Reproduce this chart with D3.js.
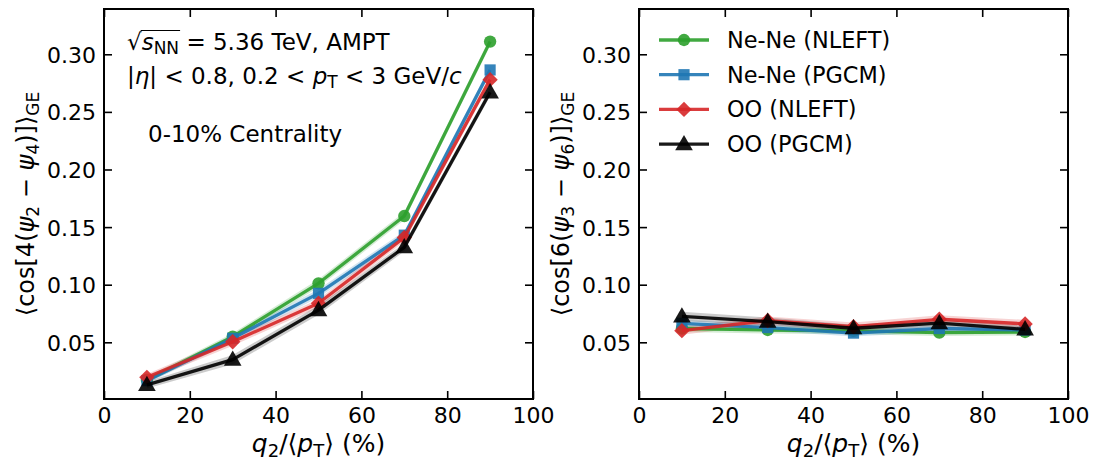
<!DOCTYPE html>
<html>
<head>
<meta charset="utf-8">
<script src="https://cdn.jsdelivr.net/npm/d3@7"></script>
<style>
  body { margin: 0; background: #fff; }
  svg text { font-family: "DejaVu Sans", sans-serif; fill: #000; }
</style>
</head>
<body>
<svg id="chart" width="1094" height="464"></svg>
<script>
// ---------------- DATA ----------------
const xValues = [10, 30, 50, 70, 90];
const seriesNames = ["Ne-Ne (NLEFT)", "Ne-Ne (PGCM)", "OO (NLEFT)", "OO (PGCM)"];
const seriesColors = ["#2ca02c", "#1f77b4", "#d62728", "#000000"];
const seriesMarkers = ["circle", "square", "diamond", "triangle"];

// left panel: <cos[4(psi2 - psi4)]>_GE
const leftNeNeNLEFT = [0.0173, 0.0549, 0.1012, 0.1596, 0.3110];
const leftNeNePGCM  = [0.0167, 0.0535, 0.0925, 0.1430, 0.2864];
const leftOONLEFT   = [0.0196, 0.0505, 0.0839, 0.1410, 0.2780];
const leftOOPGCM    = [0.0130, 0.0350, 0.0780, 0.1325, 0.2670];
const leftErrNeNeNLEFT = [0.0025, 0.0030, 0.0035, 0.0035, 0.0035];
const leftErrNeNePGCM  = [0.0025, 0.0030, 0.0035, 0.0035, 0.0035];
const leftErrOONLEFT   = [0.0030, 0.0035, 0.0035, 0.0035, 0.0035];
const leftErrOOPGCM    = [0.0030, 0.0040, 0.0040, 0.0035, 0.0035];

// right panel: <cos[6(psi3 - psi6)]>_GE
const rightNeNeNLEFT = [0.0620, 0.0607, 0.0600, 0.0584, 0.0590];
const rightNeNePGCM  = [0.0665, 0.0628, 0.0580, 0.0620, 0.0607];
const rightOONLEFT   = [0.0601, 0.0689, 0.0636, 0.0700, 0.0660];
const rightOOPGCM    = [0.0725, 0.0680, 0.0622, 0.0666, 0.0613];
const rightErrNeNeNLEFT = [0.0030, 0.0030, 0.0030, 0.0030, 0.0030];
const rightErrNeNePGCM  = [0.0030, 0.0030, 0.0030, 0.0030, 0.0030];
const rightErrOONLEFT   = [0.0035, 0.0035, 0.0035, 0.0035, 0.0035];
const rightErrOOPGCM    = [0.0040, 0.0035, 0.0030, 0.0030, 0.0030];

const xTicks = [0, 20, 40, 60, 80, 100];
const yTicks = [0.05, 0.10, 0.15, 0.20, 0.25, 0.30];
const xDomain = [0, 100];
const yDomain = [0.0008, 0.3393];

// ---------------- LAYOUT ----------------
const svg = d3.select("#chart");
const plotTop = 9, plotBottom = 399;
const panels = [
  { left: 104, right: 533,
    values: [leftNeNeNLEFT, leftNeNePGCM, leftOONLEFT, leftOOPGCM],
    errors: [leftErrNeNeNLEFT, leftErrNeNePGCM, leftErrOONLEFT, leftErrOOPGCM],
    harm: ["4", "2", "4"] },
  { left: 639, right: 1068,
    values: [rightNeNeNLEFT, rightNeNePGCM, rightOONLEFT, rightOOPGCM],
    errors: [rightErrNeNeNLEFT, rightErrNeNePGCM, rightErrOONLEFT, rightErrOOPGCM],
    harm: ["6", "3", "6"] }
];

function markerPath(type) {
  if (type === "circle") return d3.symbol(d3.symbolCircle, 120)();
  if (type === "square") return d3.symbol(d3.symbolSquare, 125)();
  if (type === "diamond") return d3.symbol(d3.symbolSquare, 118)();
  return d3.symbol(d3.symbolTriangle, 135)();
}
function markerTransform(type, x, y) {
  if (type === "diamond") return `translate(${x},${y}) rotate(45)`;
  if (type === "triangle") return `translate(${x},${y + 1})`;
  return `translate(${x},${y})`;
}

const FS = 22;
const FSA = 23;

panels.forEach((p, pi) => {
  const x = d3.scaleLinear().domain(xDomain).range([p.left, p.right]);
  const y = d3.scaleLinear().domain(yDomain).range([plotBottom, plotTop]);
  const g = svg.append("g");

  const clipId = "clip" + pi;
  svg.append("clipPath").attr("id", clipId).append("rect")
    .attr("x", p.left).attr("y", plotTop).attr("width", p.right - p.left).attr("height", plotBottom - plotTop);
  const plot = g.append("g").attr("clip-path", `url(#${clipId})`);

  // bands
  p.values.forEach((vals, si) => {
    const errs = p.errors[si];
    const area = d3.area()
      .x((d, i) => x(xValues[i]))
      .y0((d, i) => y(d - errs[i]))
      .y1((d, i) => y(d + errs[i]));
    plot.append("path").datum(vals).attr("d", area)
      .attr("fill", seriesColors[si]).attr("fill-opacity", 0.2).attr("stroke", "none");
  });
  // lines + markers
  p.values.forEach((vals, si) => {
    const line = d3.line().x((d, i) => x(xValues[i])).y(d => y(d));
    plot.append("path").datum(vals).attr("d", line)
      .attr("fill", "none").attr("stroke", seriesColors[si])
      .attr("stroke-width", 3.3).attr("stroke-opacity", 0.9).attr("stroke-linejoin", "round");
    plot.selectAll(null).data(vals).enter().append("path")
      .attr("d", markerPath(seriesMarkers[si]))
      .attr("transform", (d, i) => markerTransform(seriesMarkers[si], x(xValues[i]), y(d)))
      .attr("fill", seriesColors[si]).attr("fill-opacity", 0.9);
  });

  // axes (ticks inside)
  const tickLen = 8;
  const axB = d3.axisBottom(x).tickValues(xTicks).tickSizeInner(-tickLen).tickSizeOuter(0).tickPadding(8).tickFormat(d3.format("d"));
  const axT = d3.axisTop(x).tickValues(xTicks).tickSizeInner(-tickLen).tickSizeOuter(0).tickFormat("");
  const axL = d3.axisLeft(y).tickValues(yTicks).tickSizeInner(-tickLen).tickSizeOuter(0).tickPadding(8).tickFormat(d3.format(".2f"));
  const axR = d3.axisRight(y).tickValues(yTicks).tickSizeInner(-tickLen).tickSizeOuter(0).tickFormat("");
  const gB = g.append("g").attr("transform", `translate(0,${plotBottom})`).call(axB);
  const gT = g.append("g").attr("transform", `translate(0,${plotTop})`).call(axT);
  const gL = g.append("g").attr("transform", `translate(${p.left},0)`).call(axL);
  const gR = g.append("g").attr("transform", `translate(${p.right},0)`).call(axR);
  [gB, gT, gL, gR].forEach(a => {
    a.select(".domain").remove();
    a.selectAll(".tick line").attr("stroke", "#000").attr("stroke-width", 1.6);
    a.selectAll(".tick text").attr("font-size", FS).attr("font-family", "DejaVu Sans").attr("fill", "#000");
  });
  gL.selectAll(".tick text").attr("dy", "0.36em");
  gB.selectAll(".tick text").attr("dy", "0.72em");

  // frame
  g.append("rect").attr("x", p.left).attr("y", plotTop)
    .attr("width", p.right - p.left).attr("height", plotBottom - plotTop)
    .attr("fill", "none").attr("stroke", "#000").attr("stroke-width", 2);

  // x label
  const xl = g.append("text").attr("x", (p.left + p.right) / 2).attr("y", 452)
    .attr("text-anchor", "middle").attr("font-size", 25);
  xl.append("tspan").attr("font-style", "italic").text("q");
  xl.append("tspan").attr("font-size", 18).attr("dy", 5).text("2");
  xl.append("tspan").attr("dy", -5).text("/⟨");
  xl.append("tspan").attr("font-style", "italic").text("p");
  xl.append("tspan").attr("font-size", 18).attr("dy", 5).text("T");
  xl.append("tspan").attr("dy", -5).text("⟩ (%)");

  // y label
  const cx = p.left - 70, cy = (plotTop + plotBottom) / 2;
  const yl = g.append("text").attr("transform", `translate(${cx},${cy}) rotate(-90)`)
    .attr("text-anchor", "middle").attr("font-size", 24);
  yl.append("tspan").text(`⟨cos[${p.harm[0]}(`);
  yl.append("tspan").attr("font-style", "italic").text("ψ");
  yl.append("tspan").attr("font-size", 17).attr("dy", 5).text(p.harm[1]);
  yl.append("tspan").attr("dy", -5).text(" − ");
  yl.append("tspan").attr("font-style", "italic").text("ψ");
  yl.append("tspan").attr("font-size", 17).attr("dy", 5).text(p.harm[2]);
  yl.append("tspan").attr("dy", -5).text(")]⟩");
  yl.append("tspan").attr("font-size", 17).attr("dy", 5).text("GE");
});

// ---------------- ANNOTATIONS (left panel) ----------------
const t1 = svg.append("text").attr("x", 127).attr("y", 50).attr("font-size", FSA);
t1.append("tspan").text("√");
t1.append("tspan").attr("font-style", "italic").text("s");
t1.append("tspan").attr("font-size", 17).attr("dy", 4).text("NN");
t1.append("tspan").attr("dy", -4).text(" = 5.36 TeV, AMPT");
{
  const n = t1.node();
  const x0 = n.getStartPositionOfChar(1).x;
  const x1 = n.getEndPositionOfChar(3).x;
  svg.append("line").attr("x1", x0 - 1).attr("x2", x1 + 1).attr("y1", 30.5).attr("y2", 30.5)
    .attr("stroke", "#000").attr("stroke-width", 1.2);
}
const t2 = svg.append("text").attr("x", 127).attr("y", 84).attr("font-size", FSA);
t2.append("tspan").text("|");
t2.append("tspan").attr("font-style", "italic").text("η");
t2.append("tspan").text("| < 0.8, 0.2 < ");
t2.append("tspan").attr("font-style", "italic").text("p");
t2.append("tspan").attr("font-size", 17).attr("dy", 4).text("T");
t2.append("tspan").attr("dy", -4).text(" < 3 GeV/");
t2.append("tspan").attr("font-style", "italic").text("c");

svg.append("text").attr("x", 148).attr("y", 142).attr("font-size", FSA).text("0-10% Centrality");

// ---------------- LEGEND (right panel) ----------------
const legY = [40, 74.7, 109.4, 144.1];
seriesNames.forEach((name, si) => {
  const lg = svg.append("g");
  lg.append("line").attr("x1", 659).attr("x2", 709).attr("y1", legY[si]).attr("y2", legY[si])
    .attr("stroke", seriesColors[si]).attr("stroke-width", 3.3).attr("stroke-opacity", 0.9);
  lg.append("path").attr("d", markerPath(seriesMarkers[si]))
    .attr("transform", markerTransform(seriesMarkers[si], 684, legY[si]))
    .attr("fill", seriesColors[si]).attr("fill-opacity", 0.9);
  lg.append("text").attr("x", 727).attr("y", legY[si]).attr("dy", "0.36em")
    .attr("font-size", 22.4).text(name);
});
</script>
</body>
</html>
